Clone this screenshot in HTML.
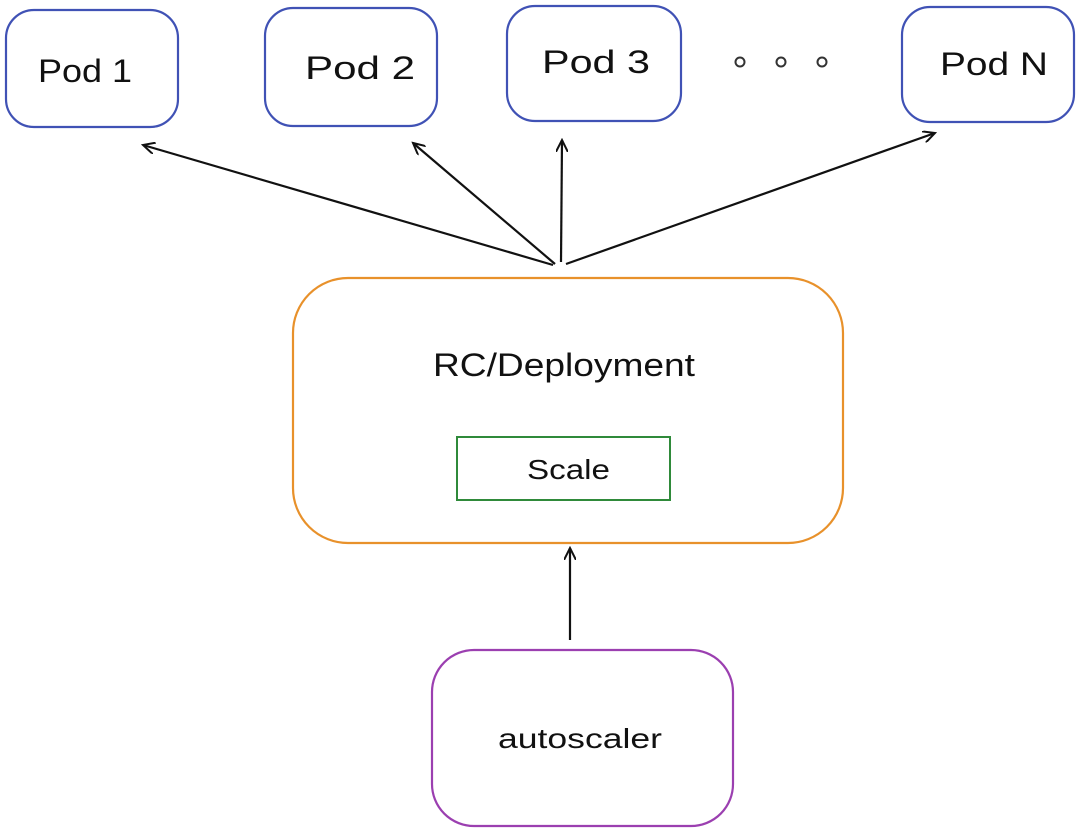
<!DOCTYPE html>
<html><head><style>
html,body{margin:0;padding:0;background:#fff;width:1080px;height:831px;overflow:hidden}
text{font-family:"Liberation Sans",sans-serif;fill:#111}
</style></head><body>
<svg width="1080" height="831" viewBox="0 0 1080 831" xmlns="http://www.w3.org/2000/svg">
<defs>
<marker id="a" markerWidth="14" markerHeight="12" refX="12" refY="6" orient="auto" markerUnits="userSpaceOnUse">
<path d="M0,0 L12,6 L0,12" fill="none" stroke="#111" stroke-width="2"/>
</marker>
</defs>
<g fill="none" stroke="#4052b5" stroke-width="2.2">
<rect x="6" y="10" width="172" height="117" rx="28"/>
<rect x="265" y="8" width="172" height="118" rx="28"/>
<rect x="507" y="6" width="174" height="115" rx="28"/>
<rect x="902" y="7" width="172" height="115" rx="28"/>
</g>
<g font-size="32">
<text x="38" y="82" textLength="94" lengthAdjust="spacingAndGlyphs">Pod 1</text>
<text x="305" y="79" textLength="110" lengthAdjust="spacingAndGlyphs">Pod 2</text>
<text x="542" y="73" textLength="108" lengthAdjust="spacingAndGlyphs">Pod 3</text>
<text x="940" y="75" textLength="108" lengthAdjust="spacingAndGlyphs">Pod N</text>
</g>
<g fill="none" stroke="#333" stroke-width="2">
<circle cx="740" cy="62" r="4.5"/><circle cx="781" cy="62" r="4.5"/><circle cx="822" cy="62" r="4.5"/>
</g>
<g stroke="#111" stroke-width="2.2" fill="none">
<line x1="553" y1="265" x2="143" y2="145" marker-end="url(#a)"/>
<line x1="555" y1="264" x2="413" y2="143" marker-end="url(#a)"/>
<line x1="561" y1="262" x2="562" y2="140" marker-end="url(#a)"/>
<line x1="566" y1="264" x2="935" y2="133" marker-end="url(#a)"/>
<line x1="570" y1="640" x2="570" y2="548" marker-end="url(#a)"/>
</g>
<rect x="293" y="278" width="550" height="265" rx="55" fill="none" stroke="#e8912b" stroke-width="2.2"/>
<text x="433" y="376" font-size="32" textLength="262" lengthAdjust="spacingAndGlyphs">RC/Deployment</text>
<rect x="457" y="437" width="213" height="63" fill="none" stroke="#2f8a3a" stroke-width="2"/>
<text x="527" y="479" font-size="28" textLength="83" lengthAdjust="spacingAndGlyphs">Scale</text>
<rect x="432" y="650" width="301" height="176" rx="42" fill="none" stroke="#9b3fb0" stroke-width="2.2"/>
<text x="498" y="748" font-size="28" textLength="164" lengthAdjust="spacingAndGlyphs">autoscaler</text>
</svg>
</body></html>
